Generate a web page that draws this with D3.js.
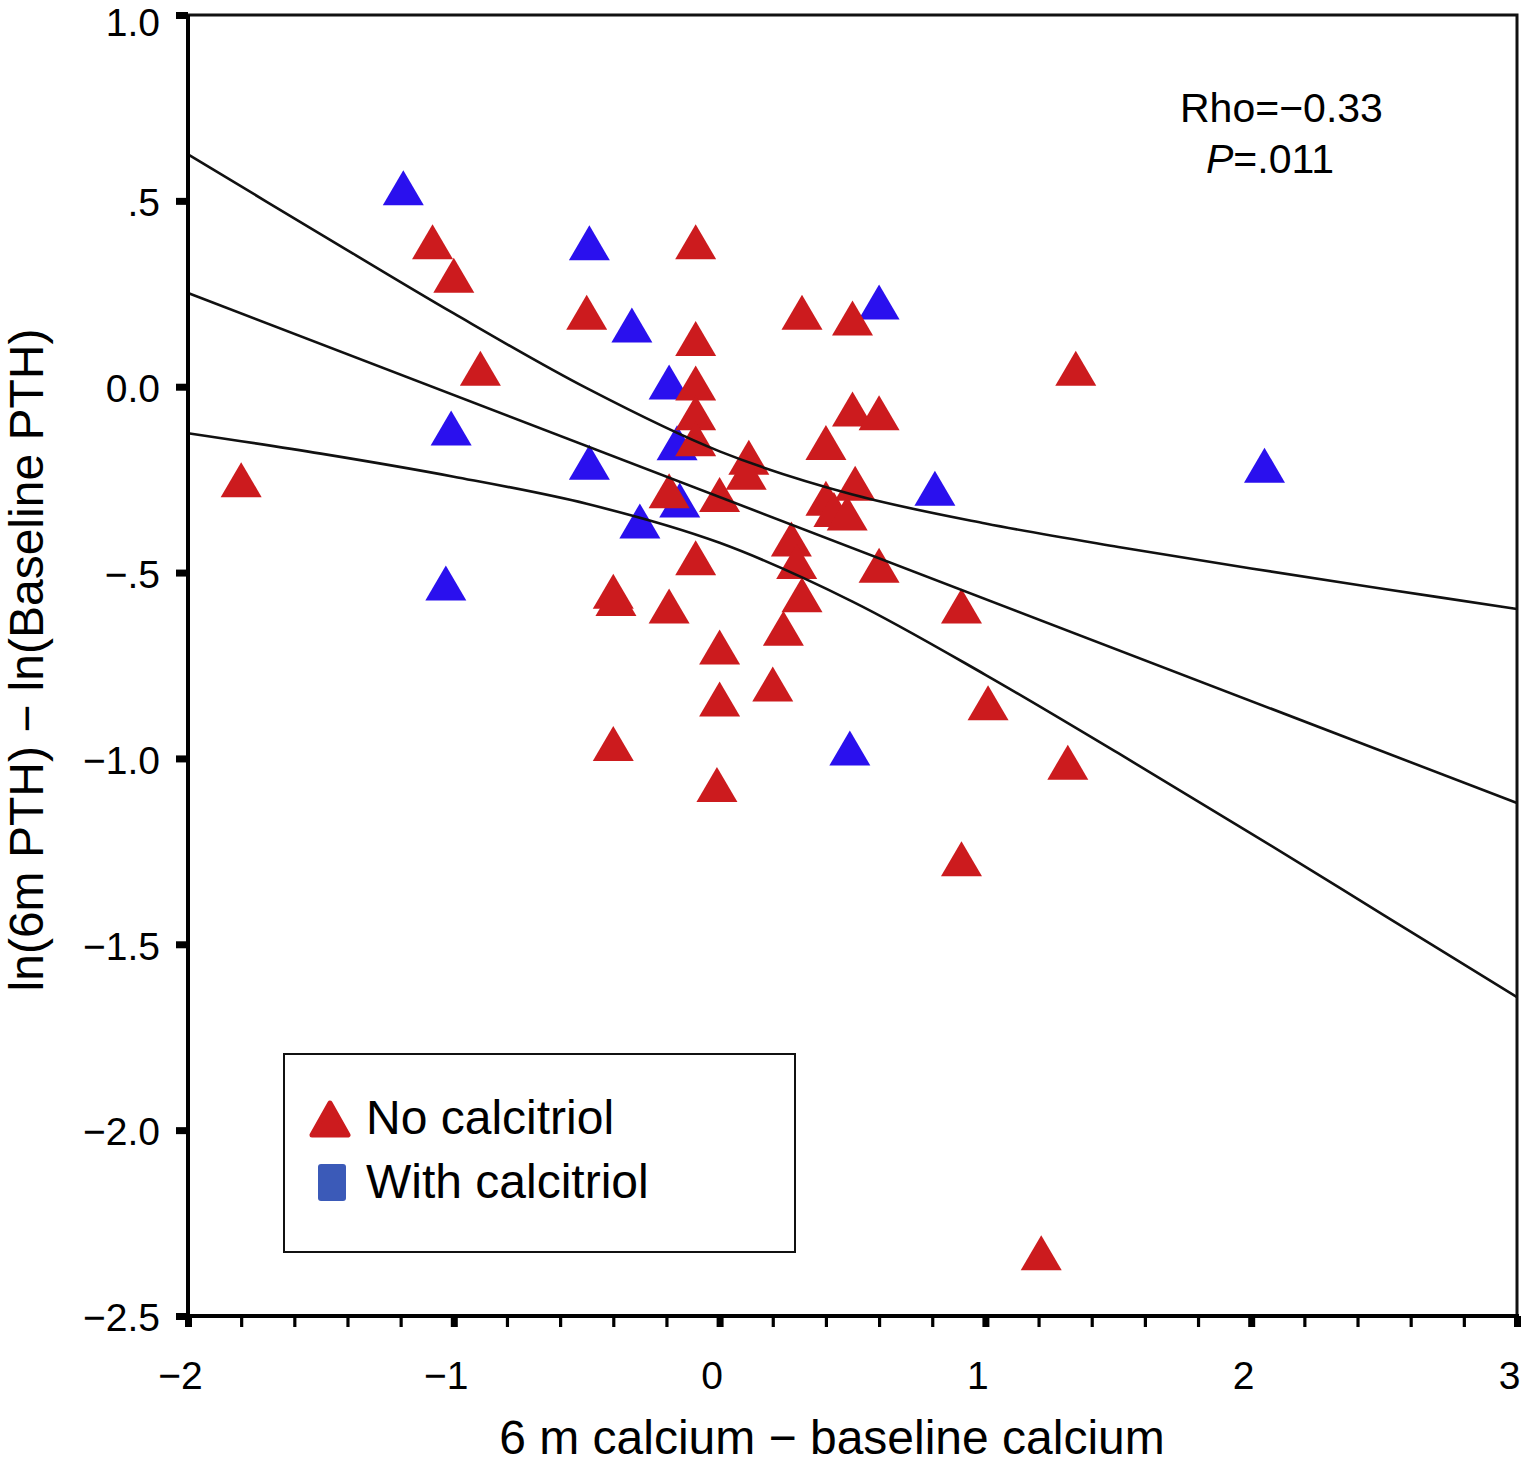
<!DOCTYPE html>
<html>
<head>
<meta charset="utf-8">
<script src="https://cdn.jsdelivr.net/npm/d3@7"></script>
<style>
  html, body { margin: 0; padding: 0; background: #ffffff; }
  svg { display: block; font-family: "Liberation Sans", Arial, Helvetica, sans-serif; }
</style>
</head>
<body>
<svg id="chart" width="1523" height="1477"></svg>
<script>
// ---------------- DATA ----------------
const noCalcitriolX = [-1.80, -1.08, -1.00, -0.90, -0.50, -0.09, -0.09, 0.31, 0.50, 1.34,
  -0.09, -0.09, -0.09, 0.50, 0.60, 0.40, 0.11, 0.10, -0.19, 0.00,
  0.51, 0.40, 0.43, 0.48, 0.27, 0.29, 0.31, 0.60, -0.09, -0.40,
  -0.39, -0.19, 0.91, 0.24, 0.00, 0.20, 0.00, 1.01, -0.40, -0.01,
  1.31, 0.91, 1.21];
const noCalcitriolY = [-0.25, 0.39, 0.30, 0.05, 0.20, 0.39, 0.13, 0.20, 0.185, 0.05,
  0.01, -0.07, -0.14, -0.06, -0.07, -0.15, -0.19, -0.23, -0.28, -0.29,
  -0.26, -0.30, -0.33, -0.34, -0.41, -0.47, -0.56, -0.48, -0.46, -0.55,
  -0.57, -0.59, -0.59, -0.65, -0.70, -0.80, -0.84, -0.85, -0.96, -1.07,
  -1.01, -1.27, -2.33];
const withCalcitriolX = [-1.19, -0.49, -0.33, 0.60, -0.19, -1.01, -0.49, -0.16, -0.15, -0.30,
  0.81, 2.05, -1.03, 0.49];
const withCalcitriolY = [0.535, 0.387, 0.166, 0.228, 0.013, -0.111, -0.203, -0.151, -0.305, -0.361,
  -0.273, -0.211, -0.528, -0.972];

const fitX = [-2, 3];
const fitY = [0.252, -1.12];
const ciX = [-2, -1.5, -1, -0.5, 0, 0.5, 1, 1.5, 2, 2.5, 3];
const ciUpper = [0.625, 0.410, 0.197, -0.004, -0.174, -0.290, -0.368, -0.431, -0.489, -0.544, -0.598];
const ciLower = [-0.125, -0.180, -0.242, -0.315, -0.420, -0.578, -0.775, -0.986, -1.202, -1.422, -1.642];

const xTicks = [-2, -1, 0, 1, 2, 3];
const xTickLabels = ["\u22122", "\u22121", "0", "1", "2", "3"];
const xMinorTicks = d3.range(-2, 3.0001, 0.2).map(v => +v.toFixed(1));
const yTicks = [1, 0.5, 0, -0.5, -1, -1.5, -2, -2.5];
const yTickLabels = ["1.0", ".5", "0.0", "\u2212.5", "\u22121.0", "\u22121.5", "\u22122.0", "\u22122.5"];

const legendLabels = ["No calcitriol", "With calcitriol"];
const xTitle = "6 m calcium \u2212 baseline calcium";
const yTitle = "ln(6m PTH) \u2212 ln(Baseline PTH)";

// ---------------- DRAW ----------------
(function () {
const svg = d3.select("#chart");
const L = 188, R = 1517, T = 15, B = 1316;
const x = d3.scaleLinear().domain([-2, 3]).range([L, R]);
const y = d3.scaleLinear().domain([-2.5, 1]).range([B, T]);

const RED = "#cc1b1e";
const BLUE = "#2a10ee";
const LEGEND_BLUE = "#3b5ab8";

const triW = 41, triH = 35;
const triPath = `M0,${-triH/2} L${triW/2},${triH/2} L${-triW/2},${triH/2} Z`;

const blueData = withCalcitriolX.map((v, i) => [v, withCalcitriolY[i]]);
const redData = noCalcitriolX.map((v, i) => [v, noCalcitriolY[i]]);

svg.append("g").selectAll("path").data(blueData).join("path")
  .attr("d", triPath)
  .attr("transform", d => `translate(${x(d[0])},${y(d[1])})`)
  .attr("fill", BLUE);

svg.append("g").selectAll("path").data(redData).join("path")
  .attr("d", triPath)
  .attr("transform", d => `translate(${x(d[0])},${y(d[1])})`)
  .attr("fill", RED);

const lineGen = d3.line().x(d => x(d[0])).y(d => y(d[1])).curve(d3.curveCatmullRom);
svg.append("path")
  .datum(fitX.map((v, i) => [v, fitY[i]]))
  .attr("d", d3.line().x(d => x(d[0])).y(d => y(d[1])))
  .attr("fill", "none").attr("stroke", "#111").attr("stroke-width", 2.6);
svg.append("path")
  .datum(ciX.map((v, i) => [v, ciUpper[i]]))
  .attr("d", lineGen)
  .attr("fill", "none").attr("stroke", "#111").attr("stroke-width", 2.6);
svg.append("path")
  .datum(ciX.map((v, i) => [v, ciLower[i]]))
  .attr("d", lineGen)
  .attr("fill", "none").attr("stroke", "#111").attr("stroke-width", 2.6);

svg.append("rect")
  .attr("x", L).attr("y", T)
  .attr("width", R - L).attr("height", B - T)
  .attr("fill", "none").attr("stroke", "#111").attr("stroke-width", 3);
svg.append("line").attr("x1", L).attr("x2", L).attr("y1", T).attr("y2", B + 10)
  .attr("stroke", "#000").attr("stroke-width", 4);
svg.append("line").attr("x1", L - 4).attr("x2", R + 2).attr("y1", B).attr("y2", B)
  .attr("stroke", "#000").attr("stroke-width", 4);

const xMinorAxis = d3.axisBottom(x).tickValues(xMinorTicks).tickSize(11).tickFormat("");
const gxm = svg.append("g").attr("transform", `translate(0,${B})`).call(xMinorAxis);
gxm.select(".domain").remove();
gxm.selectAll(".tick line").attr("stroke", "#000").attr("stroke-width", 3.2);

const xAxis = d3.axisBottom(x).tickValues(xTicks).tickSize(11)
  .tickFormat((d, i) => xTickLabels[i]).tickPadding(34);
const gx = svg.append("g").attr("transform", `translate(0,${B})`).call(xAxis);
gx.select(".domain").remove();
gx.selectAll(".tick line").attr("stroke", "#000").attr("stroke-width", 7);
gx.selectAll(".tick text")
  .attr("font-size", 39).attr("fill", "#000")
  .attr("font-family", "'Liberation Sans', Arial, Helvetica, sans-serif")
  .attr("dx", -8).attr("dy", "0.71em");

const yAxis = d3.axisLeft(y).tickValues(yTicks).tickSize(12)
  .tickFormat((d, i) => yTickLabels[i]).tickPadding(16);
const gy = svg.append("g").attr("transform", `translate(${L},0)`).call(yAxis);
gy.select(".domain").remove();
gy.selectAll(".tick line").attr("stroke", "#000").attr("stroke-width", 7);
gy.selectAll(".tick text")
  .attr("font-size", 39).attr("fill", "#000")
  .attr("font-family", "'Liberation Sans', Arial, Helvetica, sans-serif")
  .attr("dy", (d, i) => i === 0 ? "0.52em" : "0.38em");

svg.append("text")
  .attr("x", 832).attr("y", 1454)
  .attr("text-anchor", "middle")
  .attr("font-size", 48).attr("fill", "#000")
  .text(xTitle);
svg.append("text")
  .attr("transform", "translate(43,660) rotate(-90)")
  .attr("text-anchor", "middle")
  .attr("font-size", 48).attr("fill", "#000")
  .text(yTitle);

svg.append("text").attr("x", 1180).attr("y", 122)
  .attr("font-size", 41).attr("fill", "#000").text("Rho=\u22120.33");
const pText = svg.append("text").attr("x", 1206).attr("y", 173)
  .attr("font-size", 41).attr("fill", "#000");
pText.append("tspan").attr("font-style", "italic").text("P");
pText.append("tspan").text("=.011");

const lg = svg.append("g");
lg.append("rect").attr("x", 284).attr("y", 1054).attr("width", 511).attr("height", 198)
  .attr("fill", "#fff").attr("stroke", "#111").attr("stroke-width", 2);
lg.append("path")
  .attr("d", "M330,1103 L348,1135 L312,1135 Z")
  .attr("fill", RED).attr("stroke", RED).attr("stroke-width", 5).attr("stroke-linejoin", "round");
lg.append("rect").attr("x", 318).attr("y", 1164).attr("width", 28).attr("height", 37)
  .attr("rx", 3).attr("fill", LEGEND_BLUE);
lg.selectAll("text.leg").data(legendLabels).join("text")
  .attr("class", "leg")
  .attr("x", 366).attr("y", (d, i) => 1134 + i * 64)
  .attr("font-size", 48).attr("fill", "#000")
  .text(d => d);
})();
</script>
</body>
</html>
